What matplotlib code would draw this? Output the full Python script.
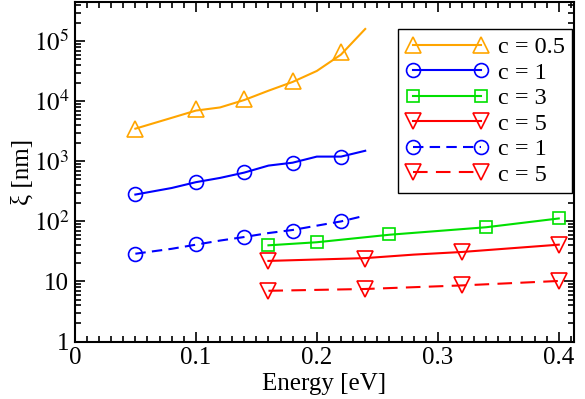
import math
import matplotlib
matplotlib.use("Agg")
import matplotlib.pyplot as plt
from matplotlib.ticker import MultipleLocator, LogLocator, FuncFormatter, NullFormatter

plt.rcParams['font.family'] = ['Liberation Serif', 'DejaVu Serif']
plt.rcParams['mathtext.fontset'] = 'stix'

# curves (lines) and the marked points on them
E_orange = [0.05, 0.08, 0.10, 0.12, 0.14, 0.16, 0.18, 0.20, 0.22, 0.24]
xi_orange = [3500, 5300, 7000, 7900, 10500, 15000, 21000, 32000, 60000, 160000]
Em_orange = [0.05, 0.10, 0.14, 0.18, 0.22]
xim_orange = [3500, 7400, 11000, 22000, 66000]

E_blue = [0.05, 0.08, 0.10, 0.12, 0.14, 0.16, 0.18, 0.20, 0.22, 0.24]
xi_blue = [280, 360, 450, 530, 650, 850, 950, 1200, 1200, 1500]
Em_blue = [0.05, 0.10, 0.14, 0.18, 0.22]
xim_blue = [285, 450, 670, 940, 1200]

E_green = [0.16, 0.20, 0.26, 0.34, 0.40]
xi_green = [40, 45, 60, 80, 112]
Em_green = [0.16, 0.20, 0.26, 0.34, 0.40]
xim_green = [40, 45, 61, 80, 112]

E_red = [0.16, 0.24, 0.28, 0.32, 0.40]
xi_red = [22, 24.5, 28, 31, 41]
Em_red = [0.16, 0.24, 0.32, 0.40]
xim_red = [22, 24, 31, 41]

E_blue_d = [0.05, 0.08, 0.10, 0.12, 0.14, 0.16, 0.18, 0.20, 0.22, 0.24]
xi_blue_d = [29, 35, 41, 48, 55, 64, 72, 85, 100, 125]
Em_blue_d = [0.05, 0.10, 0.14, 0.18, 0.22]
xim_blue_d = [29, 42, 55, 70, 100]

E_red_d = [0.16, 0.24, 0.32, 0.40]
xi_red_d = [7.0, 7.5, 8.6, 10.2]
Em_red_d = [0.16, 0.24, 0.32, 0.40]
xim_red_d = [7.0, 7.5, 8.6, 10.2]

labels = ["c = 0.5", "c = 1", "c = 3", "c = 5", "c = 1", "c = 5"]

series = [
    (E_orange, xi_orange, Em_orange, xim_orange, "#FFA500", "^", "-"),
    (E_blue, xi_blue, Em_blue, xim_blue, "#0000FF", "o", "-"),
    (E_green, xi_green, Em_green, xim_green, "#00E000", "s", "-"),
    (E_red, xi_red, Em_red, xim_red, "#FF0000", "v", "-"),
    (E_blue_d, xi_blue_d, Em_blue_d, xim_blue_d, "#0000FF", "o", (0, (5, 3))),
    (E_red_d, xi_red_d, Em_red_d, xim_red_d, "#FF0000", "v", (0, (7, 4))),
]

fig = plt.figure(figsize=(5.85, 3.99), dpi=100)
ax = fig.add_axes([0.128, 0.144, 0.853, 0.851])

handles = []
for (E, xi, Em, xim, col, mk, ls), lab in zip(series, labels):
    ax.plot(E, xi, color=col, lw=1.5, ls=ls)
    ms = 11 if mk in "^v" else (9 if mk == "s" else 10)
    ax.plot(Em, xim, ls="none", marker=mk, ms=ms, mfc="none", mec=col, mew=1.2)
    h, = ax.plot([], [], color=col, lw=1.5, ls=ls, marker=mk, ms=ms,
                 mfc="none", mec=col, mew=1.2, label=lab)
    handles.append(h)

ax.set_yscale("log")
ax.set_xlim(0, 0.4125)
ax.set_ylim(1, 4.5e5)

ax.xaxis.set_major_locator(MultipleLocator(0.1))
ax.xaxis.set_minor_locator(MultipleLocator(0.01))
ax.xaxis.set_major_formatter(FuncFormatter(lambda v, p: "0" if abs(v) < 1e-9 else f"{v:.1f}"))
ax.yaxis.set_major_locator(LogLocator(base=10, numticks=10))
ax.yaxis.set_minor_locator(LogLocator(base=10, subs=range(2, 10), numticks=20))
ax.yaxis.set_minor_formatter(NullFormatter())


def yfmt(v, p):
    if v < 1.5:
        return "1"
    if v < 15:
        return "10"
    return r"$10^{%d}$" % int(round(math.log10(v)))


ax.yaxis.set_major_formatter(FuncFormatter(yfmt))
ax.tick_params(which="both", direction="in", top=True, right=True, labelsize=18, width=1.2)
ax.tick_params(which="major", length=7, pad=4)
ax.tick_params(which="minor", length=4)
for s in ax.spines.values():
    s.set_linewidth(1.5)

ax.set_xlabel("Energy [eV]", fontsize=18, labelpad=3)
ax.set_ylabel("ξ [nm]", fontsize=18, labelpad=0)

leg = ax.legend(handles=handles, loc="upper right", bbox_to_anchor=(0.996, 0.92),
                numpoints=2, handlelength=3.4, fontsize=17.5, fancybox=False,
                framealpha=1, edgecolor="black", borderpad=0.3, labelspacing=0.14,
                handletextpad=0.4, borderaxespad=0.0)
leg.get_frame().set_linewidth(1.0)

fig.savefig("out.png", dpi=100)
